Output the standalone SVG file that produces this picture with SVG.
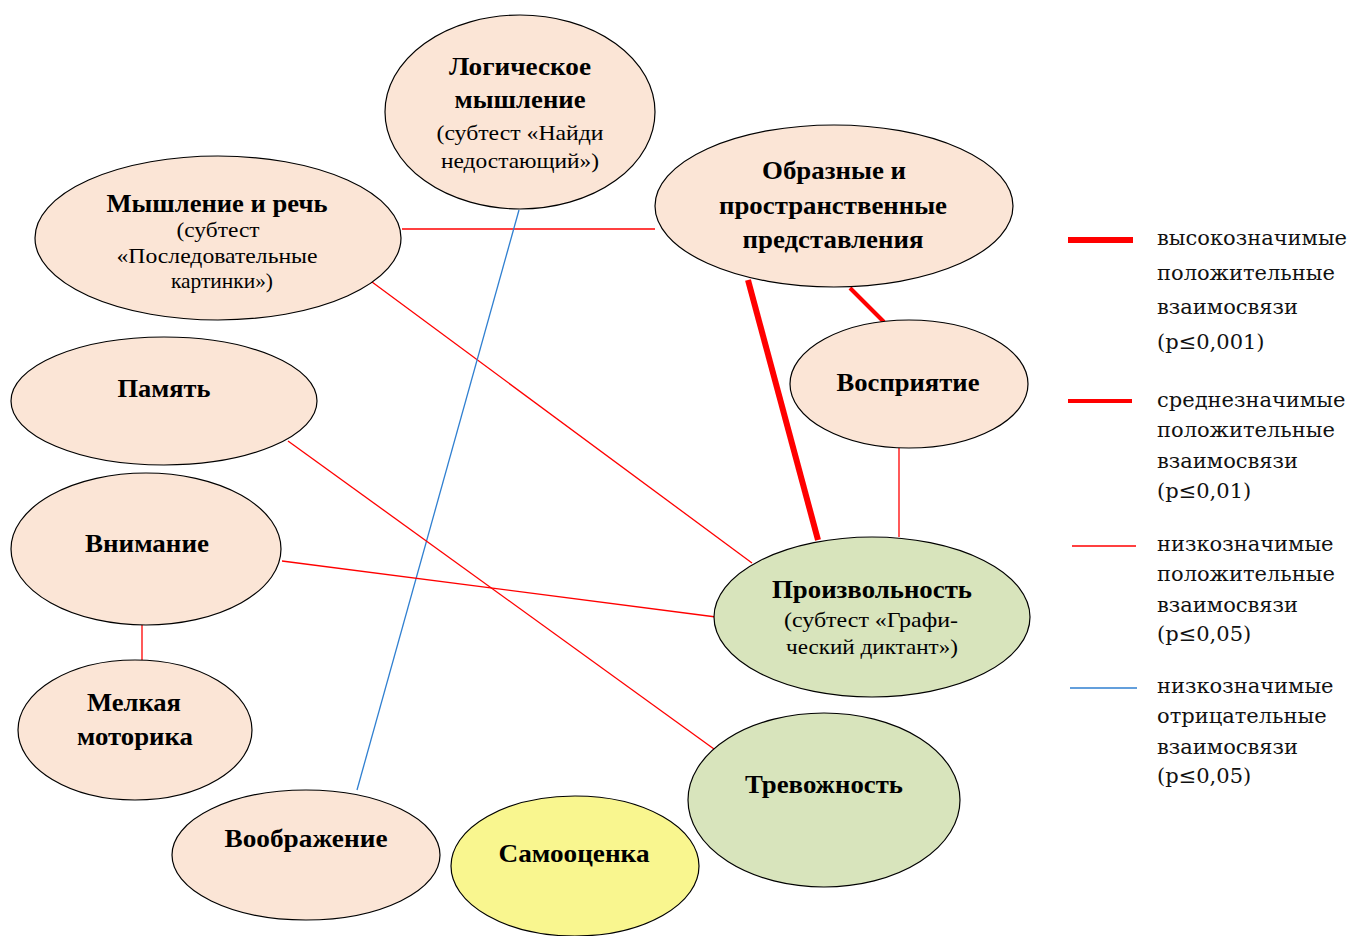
<svg xmlns="http://www.w3.org/2000/svg" width="1351" height="936" viewBox="0 0 1351 936">
<style>
.n{stroke:#000;stroke-width:1.2}
.p{fill:#fbe5d6}
.g{fill:#d8e4bc}
.y{fill:#f9f68f}
text{font-family:"Liberation Serif","Times New Roman",serif;fill:#000;text-anchor:middle}
.b{font-weight:bold;font-size:25px}
.r{font-size:21px}
.lg{font-family:"DejaVu Serif",serif;font-size:21px;text-anchor:start;fill:#111}
.c1{stroke:#ff0000;stroke-width:1.3;fill:none}
.c2{stroke:#ff0000;stroke-width:4;fill:none}
.c3{stroke:#ff0000;stroke-width:6;fill:none}
.cb{stroke:#2f7fd0;stroke-width:1.3;fill:none}
</style>
<rect width="1351" height="936" fill="#fff"/>
<g id="connectors">
<line class="c1" x1="402" y1="229" x2="655" y2="229"/>
<line class="c1" x1="372" y1="282" x2="752" y2="563"/>
<line class="cb" x1="519" y1="210" x2="357" y2="790"/>
<line class="c3" x1="748" y1="280" x2="818" y2="540"/>
<line class="c2" x1="850" y1="288" x2="884" y2="322"/>
<line class="c1" x1="899" y1="448" x2="899" y2="537"/>
<line class="c1" x1="288" y1="441" x2="714" y2="749"/>
<line class="c1" x1="282" y1="561" x2="716" y2="617"/>
<line class="c1" x1="142" y1="625" x2="142" y2="660"/>
</g>
<g id="logic">
<ellipse class="n p" cx="520" cy="112" rx="135" ry="97"/>
<text class="b" x="520" y="75" textLength="142" lengthAdjust="spacingAndGlyphs">Логическое</text>
<text class="b" x="520" y="108" textLength="131" lengthAdjust="spacingAndGlyphs">мышление</text>
<text class="r" x="520" y="140" textLength="167" lengthAdjust="spacingAndGlyphs">(субтест «Найди</text>
<text class="r" x="520" y="168" textLength="158" lengthAdjust="spacingAndGlyphs">недостающий»)</text>
</g>
<g id="speech">
<ellipse class="n p" cx="218" cy="238" rx="183" ry="82"/>
<text class="b" x="217" y="212" textLength="221" lengthAdjust="spacingAndGlyphs">Мышление и речь</text>
<text class="r" x="218" y="237" textLength="83" lengthAdjust="spacingAndGlyphs">(субтест</text>
<text class="r" x="217" y="263" textLength="201" lengthAdjust="spacingAndGlyphs">«Последовательные</text>
<text class="r" x="222" y="288" textLength="102" lengthAdjust="spacingAndGlyphs">картинки»)</text>
</g>
<g id="imagery">
<ellipse class="n p" cx="834" cy="206" rx="179" ry="81"/>
<text class="b" x="834" y="179" textLength="144" lengthAdjust="spacingAndGlyphs">Образные и</text>
<text class="b" x="833" y="214" textLength="228" lengthAdjust="spacingAndGlyphs">пространственные</text>
<text class="b" x="833" y="248" textLength="181" lengthAdjust="spacingAndGlyphs">представления</text>
</g>
<g id="perception">
<ellipse class="n p" cx="909" cy="384" rx="119" ry="64"/>
<text class="b" x="908" y="391" textLength="143" lengthAdjust="spacingAndGlyphs">Восприятие</text>
</g>
<g id="memory">
<ellipse class="n p" cx="164" cy="401" rx="153" ry="64"/>
<text class="b" x="164" y="397" textLength="93" lengthAdjust="spacingAndGlyphs">Память</text>
</g>
<g id="attention">
<ellipse class="n p" cx="146" cy="549" rx="135" ry="76"/>
<text class="b" x="147" y="552" textLength="124" lengthAdjust="spacingAndGlyphs">Внимание</text>
</g>
<g id="motor">
<ellipse class="n p" cx="135" cy="730" rx="117" ry="70"/>
<text class="b" x="134" y="711" textLength="94" lengthAdjust="spacingAndGlyphs">Мелкая</text>
<text class="b" x="135" y="745" textLength="116" lengthAdjust="spacingAndGlyphs">моторика</text>
</g>
<g id="voluntariness">
<ellipse class="n g" cx="872" cy="617" rx="158" ry="80"/>
<text class="b" x="872" y="598" textLength="200" lengthAdjust="spacingAndGlyphs">Произвольность</text>
<text class="r" x="871" y="627" textLength="174" lengthAdjust="spacingAndGlyphs">(субтест «Графи-</text>
<text class="r" x="872" y="654" textLength="172" lengthAdjust="spacingAndGlyphs">ческий диктант»)</text>
</g>
<g id="anxiety">
<ellipse class="n g" cx="824" cy="800" rx="136" ry="87"/>
<text class="b" x="824" y="793" textLength="158" lengthAdjust="spacingAndGlyphs">Тревожность</text>
</g>
<g id="imagination">
<ellipse class="n p" cx="306" cy="855" rx="134" ry="65"/>
<text class="b" x="306" y="847" textLength="163" lengthAdjust="spacingAndGlyphs">Воображение</text>
</g>
<g id="selfesteem">
<ellipse class="n y" cx="575" cy="866" rx="124" ry="70"/>
<text class="b" x="574" y="862" textLength="151" lengthAdjust="spacingAndGlyphs">Самооценка</text>
</g>
<g id="legend">
<line class="c3" x1="1068" y1="240" x2="1133" y2="240" stroke-width="7"/>
<line class="c2" x1="1068" y1="401" x2="1132" y2="401"/>
<line class="c1" x1="1072" y1="546" x2="1136" y2="546"/>
<line class="cb" x1="1070" y1="688" x2="1137" y2="688"/>
<text class="lg" x="1157" y="245">высокозначимые</text>
<text class="lg" x="1157" y="280">положительные</text>
<text class="lg" x="1157" y="314">взаимосвязи</text>
<text class="lg" x="1157" y="349">(p≤0,001)</text>
<text class="lg" x="1157" y="407">среднезначимые</text>
<text class="lg" x="1157" y="437">положительные</text>
<text class="lg" x="1157" y="468">взаимосвязи</text>
<text class="lg" x="1157" y="498">(p≤0,01)</text>
<text class="lg" x="1157" y="551">низкозначимые</text>
<text class="lg" x="1157" y="581">положительные</text>
<text class="lg" x="1157" y="612">взаимосвязи</text>
<text class="lg" x="1157" y="641">(p≤0,05)</text>
<text class="lg" x="1157" y="693">низкозначимые</text>
<text class="lg" x="1157" y="723">отрицательные</text>
<text class="lg" x="1157" y="754">взаимосвязи</text>
<text class="lg" x="1157" y="783">(p≤0,05)</text>
</g>
</svg>
